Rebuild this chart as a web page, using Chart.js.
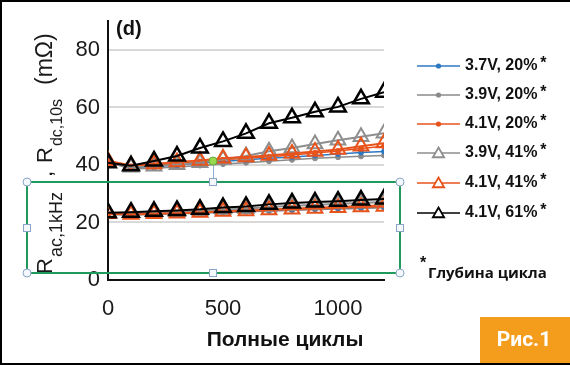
<!DOCTYPE html>
<html><head><meta charset="utf-8">
<script src="https://cdn.jsdelivr.net/npm/chart.js@4/dist/chart.umd.min.js"></script>
<style>html,body{margin:0;padding:0;background:#fff;overflow:hidden}canvas{display:block}</style>
</head><body>
<canvas id="c" width="570" height="365"></canvas>
<script>
// ---- data ----
const cycles = [0,100,200,300,400,500,600,700,800,900,1000,1100,1200];
const xTickValues = [0, 500, 1000];
const yTickValues = [0, 20, 40, 60, 80];
const seriesLabels = ["3.7V, 20%", "3.9V, 20%", "4.1V, 20%", "3.9V, 41%", "4.1V, 41%", "4.1V, 61%"];
// R_dc,10s (upper curves)
const rdc37v20 = [41.3,39.0,39.5,40.0,40.6,41.2,41.8,42.3,42.8,43.3,43.8,44.3,44.7];
const rdc39v20 = [41.0,38.6,38.9,39.3,39.8,40.3,40.8,41.3,41.8,42.3,42.7,43.0,43.3];
const rdc41v20 = [41.3,39.5,40.0,40.5,41.2,41.8,42.3,42.9,43.5,44.2,44.9,45.7,46.5];
const rdc39v41 = [41.0,39.2,39.6,40.1,40.8,41.9,43.1,44.8,45.9,47.3,48.6,49.8,51.0];
const rdc41v41 = [41.5,39.8,40.3,41.0,41.6,42.3,42.8,43.3,44.0,44.7,45.4,46.5,47.6];
const rdc41v61 = [40.8,39.7,41.4,43.1,45.9,48.2,51.0,54.5,56.4,58.5,60.2,63.0,65.3];
// R_ac,1kHz (lower curves)
const rac37v20 = [22.9,22.8,23.0,23.2,23.4,23.7,24.0,24.3,24.5,24.8,25.0,25.3,25.5];
const rac39v20 = [22.8,22.6,22.8,23.0,23.2,23.5,23.7,24.0,24.2,24.5,24.7,24.9,25.1];
const rac41v20 = [22.9,22.9,23.1,23.3,23.6,23.9,24.2,24.6,24.9,25.2,25.5,25.8,26.0];
const rac39v41 = [23.2,23.2,23.4,23.7,24.0,24.5,24.8,25.4,25.8,26.1,26.5,26.8,27.1];
const rac41v41 = [23.0,22.8,23.0,23.2,23.5,23.8,24.0,24.3,24.6,24.9,25.1,25.4,25.6];
const rac41v61 = [23.4,23.6,23.9,24.2,24.6,25.2,25.6,26.3,26.8,27.1,27.4,27.8,28.2];

const xTitle = "Полные циклы";
const panelLabel = "(d)";
const footnote = "Глубина цикла";
const figLabel = "Рис.1";

// ---- styles ----
const styles = [
  {color:'#2e78c2', tri:false, order:4, lw:1.5},
  {color:'#8a8a8a', tri:false, order:5, lw:1.5},
  {color:'#e8531c', tri:false, order:3, lw:1.5},
  {color:'#8e8e8e', tri:true,  order:2, lw:2, r:8.5, bw:2},
  {color:'#e8531c', tri:true,  order:1, lw:2, r:8.5, bw:2},
  {color:'#000000', tri:true,  order:0, lw:2, r:9, bw:2.5}
];
const upper = [rdc37v20, rdc39v20, rdc41v20, rdc39v41, rdc41v41, rdc41v61];
const lower = [rac37v20, rac39v20, rac41v20, rac39v41, rac41v41, rac41v61];

function mk(vals, i, suffix) {
  const s = styles[i];
  return {
    label: seriesLabels[i] + suffix,
    data: cycles.map((c, k) => ({x: c, y: vals[k]})),
    borderColor: s.color,
    borderWidth: s.lw,
    backgroundColor: s.color,
    pointStyle: s.tri ? 'triangle' : 'circle',
    pointRadius: s.tri ? s.r : 2.5,
    pointBorderWidth: s.tri ? s.bw : 1,
    pointBackgroundColor: s.tri ? 'rgba(0,0,0,0)' : s.color,
    pointBorderColor: s.color,
    order: s.order,
    tension: 0,
    fill: false
  };
}
const datasets = [];
for (let i = 0; i < 6; i++) { datasets.push(mk(upper[i], i, ' dc')); datasets.push(mk(lower[i], i, ' ac')); }

function rich(ctx, x, y, segs) {
  ctx.save();
  ctx.translate(x, y);
  ctx.rotate(-Math.PI / 2);
  ctx.textAlign = 'left';
  ctx.textBaseline = 'alphabetic';
  ctx.fillStyle = '#1a1a1a';
  let cx = 0;
  for (const s of segs) {
    ctx.font = s.font;
    cx += s.gap || 0;
    ctx.fillText(s.text, cx, s.dy || 0);
    cx += ctx.measureText(s.text).width;
  }
  ctx.restore();
}

const decor = {
  id: 'decor',
  afterDraw(chart) {
    const ctx = chart.ctx;
    ctx.save();
    // panel label
    ctx.fillStyle = '#111';
    ctx.font = 'bold 20px "Liberation Sans", Arial';
    ctx.textBaseline = 'middle';
    ctx.textAlign = 'left';
    ctx.fillText(panelLabel, 116, 29);
    // x title
    ctx.font = 'bold 21px "Liberation Sans", Arial';
    ctx.textAlign = 'center';
    ctx.fillText(xTitle, 285, 340);
    // y labels (rotated)
    rich(ctx, 52, 274, [
      {text:'R', font:'22px "Liberation Sans", Arial'},
      {text:'ac,1kHz', font:'18px "Liberation Sans", Arial', dy:10, gap:1},
      {text:',', font:'22px "Liberation Sans", Arial', gap:15}
    ]);
    rich(ctx, 52, 163, [
      {text:'R', font:'22px "Liberation Sans", Arial'},
      {text:'dc,10s', font:'16px "Liberation Sans", Arial', dy:10, gap:1},
      {text:'(mΩ)', font:'23px "Liberation Sans", Arial', gap:14}
    ]);
    // selection box (green)
    ctx.strokeStyle = '#1f9a5c';
    ctx.lineWidth = 2;
    ctx.strokeRect(27, 182, 373, 91);
    // rotation handle
    ctx.strokeStyle = '#8fb0d0';
    ctx.lineWidth = 1;
    ctx.beginPath(); ctx.moveTo(213.5, 165); ctx.lineTo(213.5, 180); ctx.stroke();
    ctx.fillStyle = '#96d84f';
    ctx.strokeStyle = '#6aa83a';
    ctx.beginPath(); ctx.arc(213, 161, 4, 0, Math.PI * 2); ctx.fill(); ctx.stroke();
    // handles
    ctx.strokeStyle = '#8aa6c6';
    ctx.lineWidth = 1;
    ctx.fillStyle = '#f4f8fc';
    for (const [hx, hy] of [[27,182],[400,182],[27,273],[400,273]]) {
      ctx.beginPath(); ctx.arc(hx, hy, 4, 0, Math.PI * 2); ctx.fill(); ctx.stroke();
    }
    for (const [hx, hy] of [[213,182],[213,273],[27,228],[400,228]]) {
      ctx.fillRect(hx - 3.5, hy - 3.5, 7, 7); ctx.strokeRect(hx - 3.5, hy - 3.5, 7, 7);
    }
    // legend
    const ly = [66, 95, 124, 153, 183, 213];
    for (let i = 0; i < 6; i++) {
      const s = styles[i];
      ctx.strokeStyle = s.color;
      ctx.lineWidth = 1.5;
      ctx.beginPath(); ctx.moveTo(417, ly[i]); ctx.lineTo(460, ly[i]); ctx.stroke();
      if (s.tri) {
        ctx.save();
        ctx.fillStyle = '#fff';
        ctx.strokeStyle = s.color; ctx.lineWidth = 1.8;
        ctx.beginPath();
        Chart.helpers.drawPoint(ctx, {pointStyle:'triangle', radius:6.5, borderWidth:1.8, rotation:0}, 438.5, ly[i] + 1);
        ctx.restore();
      } else {
        ctx.save(); ctx.fillStyle = s.color; ctx.beginPath(); ctx.arc(438.5, ly[i], 2.6, 0, Math.PI*2); ctx.fill(); ctx.restore();
      }
      ctx.fillStyle = '#111';
      ctx.textAlign = 'left';
      ctx.textBaseline = 'middle';
      ctx.font = 'bold 16px "Liberation Sans", Arial';
      ctx.fillText(seriesLabels[i], 465, ly[i]);
      const w = ctx.measureText(seriesLabels[i]).width;
      ctx.fillText('*', 465 + w + 3, ly[i] - 2);
    }
    // footnote
    ctx.fillStyle = '#111';
    ctx.font = 'bold 16px "Liberation Sans", Arial';
    ctx.fillText('*', 420, 264);
    ctx.font = 'bold 15px "Open Sans", "Noto Sans", sans-serif';
    ctx.fillText(footnote, 428, 274);
    // fig label box
    ctx.fillStyle = '#f49c1c';
    ctx.fillRect(480, 317, 90, 46);
    ctx.fillStyle = '#fff';
    ctx.font = 'bold 21px Roboto, "Open Sans", sans-serif';
    ctx.textAlign = 'center';
    ctx.fillText(figLabel, 524, 341);
    // frame
    ctx.fillStyle = '#000';
    ctx.fillRect(0, 0, 570, 2);
    ctx.fillRect(0, 0, 2, 365);
    ctx.fillRect(0, 363, 570, 2);
    ctx.restore();
  }
};

new Chart(document.getElementById('c'), {
  type: 'line',
  data: { datasets },
  plugins: [decor],
  options: {
    responsive: false,
    animation: false,
    layout: { padding: { left: 0, top: 17, right: 186, bottom: 0 } },
    plugins: { legend: { display: false }, tooltip: { enabled: false } },
    scales: {
      x: {
        type: 'linear', min: 0, max: 1200,
        afterFit(s) { s.height = 85; },
        afterBuildTicks(s) { s.ticks = xTickValues.map(v => ({value: v})); },
        grid: { display: false, drawTicks: false },
        border: { display: true, color: '#111', width: 2 },
        ticks: { autoSkip: false, padding: 16, color: '#1a1a1a', callback: v => String(v),
                 font: { family: '"Liberation Sans", Arial', size: 22 }, maxRotation: 0 }
      },
      y: {
        type: 'linear', min: 0, max: 90,
        afterFit(s) { s.width = 108; },
        afterBuildTicks(s) { s.ticks = yTickValues.map(v => ({value: v})); },
        grid: { drawTicks: false, lineWidth: 2,
                color: c => (c.tick && c.tick.value === 0) ? 'rgba(0,0,0,0)' : '#d9d9d9' },
        border: { display: true, color: '#111', width: 2 },
        ticks: { autoSkip: false, padding: 8, color: '#1a1a1a', callback: v => String(v),
                 font: { family: '"Liberation Sans", Arial', size: 22 } }
      }
    }
  }
});
</script>
</body></html>
